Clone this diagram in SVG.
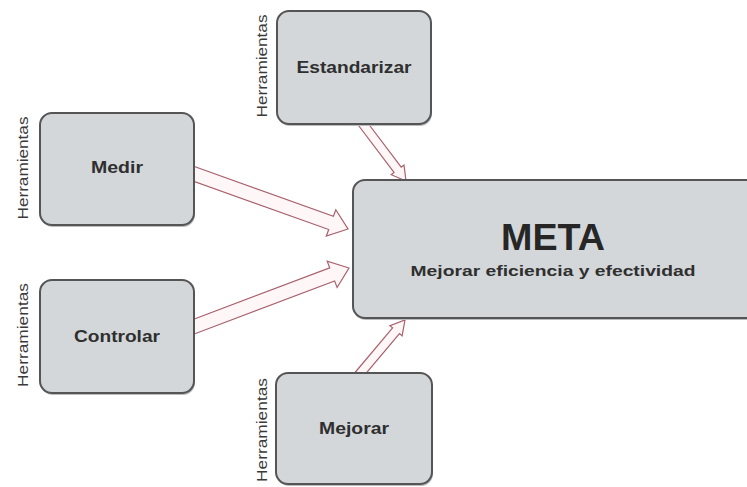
<svg xmlns="http://www.w3.org/2000/svg" width="747" height="487" viewBox="0 0 747 487">
  <style>
    .box { fill: #d4d7da; stroke: #555555; stroke-width: 2; }
    .shadow { fill: #b9bcbf; }
    .label { font-family: "Liberation Sans", Arial, sans-serif; font-weight: bold; font-size: 17px; fill: #2f2f2f; text-anchor: middle; }
    .tool { font-family: "Liberation Sans", Arial, sans-serif; font-size: 14px; fill: #3a3a3a; text-anchor: middle; }
    .title { font-family: "Liberation Sans", Arial, sans-serif; font-weight: bold; font-size: 37px; fill: #262626; text-anchor: middle; }
    .sub { font-family: "Liberation Sans", Arial, sans-serif; font-weight: bold; font-size: 15px; fill: #2f2f2f; text-anchor: middle; }
    .arrow { fill: #fff6f7; stroke: #a8606c; stroke-width: 1.2; stroke-linejoin: miter; }
  </style>
  <rect width="747" height="487" fill="#ffffff"/>

  <!-- connectors: hollow block arrows into the goal box -->
  <g id="connectors">
    <polygon class="arrow" points="193,166 333.4,216.3 335.8,209.8 348,229 326.3,236.1 328.7,229.5 193,181"/>
    <polygon class="arrow" points="193,319.5 329.7,267.8 327.2,261.3 349,268 337.1,287.5 334.6,280.9 193,334.5"/>
    <polygon class="arrow" points="357.4,124 394,172.5 391.2,174.7 406,181 404,165 401.2,167.1 368.6,124"/>
    <polygon class="arrow" points="354.6,373 392.6,327.8 389.9,325.6 405,320 402.1,335.9 399.5,333.6 366.4,373"/>
  </g>

  <g id="estandarizar">
    <rect class="shadow" x="278" y="13" width="154" height="113" rx="12"/>
    <rect class="box" x="277" y="11" width="154" height="113" rx="12"/>
    <text class="label" x="354" y="73" textLength="115" lengthAdjust="spacingAndGlyphs">Estandarizar</text>
    <text class="tool" transform="translate(267,66) rotate(-90)" textLength="103" lengthAdjust="spacingAndGlyphs">Herramientas</text>
  </g>

  <g id="medir">
    <rect class="shadow" x="41" y="115" width="154" height="112" rx="12"/>
    <rect class="box" x="40" y="113" width="154" height="112" rx="12"/>
    <text class="label" x="117" y="173" textLength="52" lengthAdjust="spacingAndGlyphs">Medir</text>
    <text class="tool" transform="translate(28,168) rotate(-90)" textLength="103" lengthAdjust="spacingAndGlyphs">Herramientas</text>
  </g>

  <g id="controlar">
    <rect class="shadow" x="41" y="282" width="154" height="113" rx="12"/>
    <rect class="box" x="40" y="280" width="154" height="113" rx="12"/>
    <text class="label" x="117" y="342" textLength="86" lengthAdjust="spacingAndGlyphs">Controlar</text>
    <text class="tool" transform="translate(28,335) rotate(-90)" textLength="104" lengthAdjust="spacingAndGlyphs">Herramientas</text>
  </g>

  <g id="mejorar">
    <rect class="shadow" x="277" y="375" width="156" height="111" rx="12"/>
    <rect class="box" x="276" y="373" width="156" height="111" rx="12"/>
    <text class="label" x="354" y="434" textLength="70" lengthAdjust="spacingAndGlyphs">Mejorar</text>
    <text class="tool" transform="translate(267,430) rotate(-90)" textLength="104" lengthAdjust="spacingAndGlyphs">Herramientas</text>
  </g>

  <g id="meta">
    <rect class="shadow" x="354" y="182" width="420" height="138" rx="12"/>
    <rect class="box" x="353" y="180" width="420" height="138" rx="12"/>
    <text class="title" x="553" y="250" textLength="104" lengthAdjust="spacingAndGlyphs">META</text>
    <text class="sub" x="553" y="276" textLength="285" lengthAdjust="spacingAndGlyphs">Mejorar eficiencia y efectividad</text>
  </g>
</svg>
